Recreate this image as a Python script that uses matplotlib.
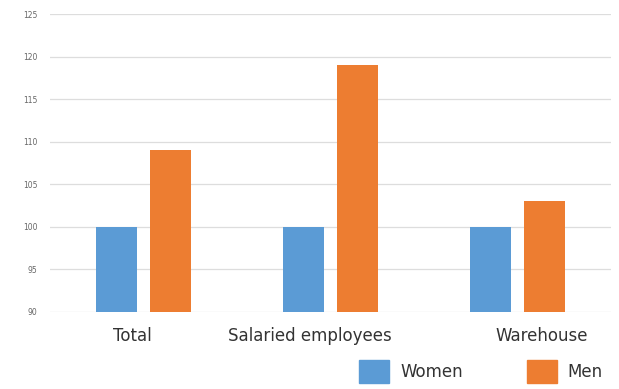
import numpy as np
import matplotlib.pyplot as plt
from matplotlib.patches import Patch

categories = ["Total", "Salaried employees", "Warehouse"]
women = [100, 100, 100]
men = [109, 119, 103]
label_shift = [-0.06, -0.11, 0.13]

blue = "#5B9BD5"
orange = "#ED7D31"

plt.rcParams['font.family'] = ['DejaVu Sans']

fig = plt.figure(figsize=(6.19, 3.89), dpi=100)
ax = fig.add_axes([0.081, 0.198, 0.906, 0.766])

x = np.arange(len(categories))
w = 0.22
ax.bar(x - 0.035 - w / 2, women, w, color=blue, zorder=3)
ax.bar(x + 0.035 + w / 2, men, w, color=orange, zorder=3)

ax.set_ylim(90, 125)
ax.set_xlim(-0.5, 2.5)
ax.set_yticks(np.arange(90, 126, 5))
ax.tick_params(axis='y', length=0, labelsize=5.5, labelcolor='#666666', pad=9)
ax.grid(axis='y', color='#dddddd', lw=0.9, zorder=0)
ax.set_xticks(x + np.array(label_shift))
ax.set_xticklabels(categories, fontsize=12, color='#333333')
ax.tick_params(axis='x', length=0, pad=11)
for s in ax.spines.values():
    s.set_visible(False)

handles = [Patch(color=blue, label="Women"), Patch(color=orange, label="Men")]
fig.legend(handles=handles, loc='lower left', bbox_to_anchor=(0.556, -0.024),
           ncol=2, frameon=False, fontsize=12, handlelength=1.8,
           handleheight=1.75, handletextpad=0.66, columnspacing=3.83,
           labelcolor='#333333')

fig.savefig("out.png", dpi=100)
